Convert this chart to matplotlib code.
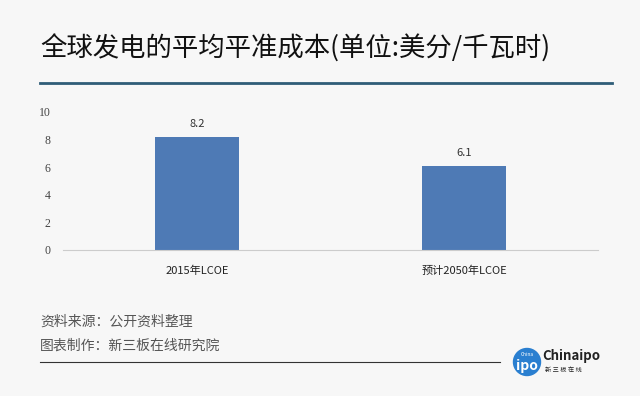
import matplotlib.pyplot as plt
from matplotlib.patches import Ellipse
from matplotlib.lines import Line2D

plt.rcParams['font.family'] = ['Noto Sans CJK SC', 'DejaVu Sans']

categories = ['2015年LCOE', '预计2050年LCOE']
values = [8.2, 6.1]
yticks = [0, 2, 4, 6, 8, 10]

bg = '#f7f7f7'
fig = plt.figure(figsize=(6.4, 3.96), dpi=100, facecolor=bg)
W, H = 640, 396

def fx(px):
    return px / W

def fy(py):
    return 1 - py / H

ax = fig.add_axes([fx(63), fy(250), fx(598) - fx(63), fy(112) - fy(250)])
ax.set_facecolor(bg)
bars = ax.bar(range(len(values)), values, width=0.314, color='#4e7ab5', zorder=2)
for b, v in zip(bars, values):
    ax.text(b.get_x() + b.get_width() / 2, v + 0.6, f'{v:.1f}', ha='center', va='bottom',
            fontsize=8, color='#333333')
ax.set_xlim(-0.5, 1.5)
ax.set_ylim(0, 10)
ax.set_yticks(yticks)
ax.set_yticklabels([str(t) for t in yticks], fontsize=8.5, color='#444444', family='Liberation Serif')
ax.set_xticks(range(len(categories)))
ax.set_xticklabels(categories, fontsize=8, color='#222222')
ax.tick_params(length=0, pad=9)
ax.tick_params(axis='x', pad=11)
for s in ['top', 'right', 'left']:
    ax.spines[s].set_visible(False)
ax.spines['bottom'].set_color('#cccccc')
ax.spines['bottom'].set_linewidth(0.8)

# title and rule
fig.text(fx(40), fy(49), '全球发电的平均平准成本(单位:美分/千瓦时)', fontsize=19,
         color='#111111', va='center', ha='left')
fig.add_artist(Line2D([fx(40), fx(612)], [fy(83), fy(83)], color='#2f5d78', lw=2))

# source notes
fig.text(fx(40), fy(322), '资料来源：公开资料整理', fontsize=10, color='#555555', va='center')
fig.text(fx(40), fy(346), '图表制作：新三板在线研究院', fontsize=10, color='#555555', va='center')
fig.add_artist(Line2D([fx(40), fx(500)], [fy(362), fy(362)], color='#333333', lw=0.8))

# logo
fig.add_artist(Ellipse((fx(527), fy(362)), 27 / W, 27 / H, color='#2a7fd0'))
fig.text(fx(527), fy(366), 'ipo', fontsize=10, color='white', weight='bold', ha='center', va='center')
fig.text(fx(527), fy(354), 'China', fontsize=3.5, color='white', ha='center', va='center')
fig.text(fx(542), fy(356), 'Chinaipo', fontsize=9.5, color='#222222', weight='bold', va='center')
fig.text(fx(545), fy(370), '新 三 板 在 线', fontsize=4.5, color='#222222', va='center')

fig.savefig('out.png', dpi=100, facecolor=bg)
